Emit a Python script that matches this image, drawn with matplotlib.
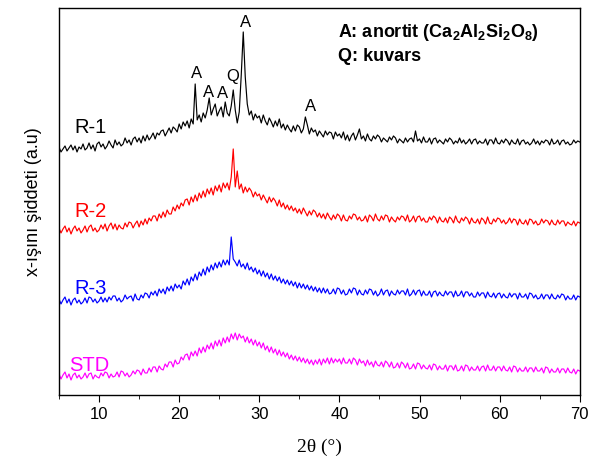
import numpy as np
import matplotlib
matplotlib.use("Agg")
import matplotlib.pyplot as plt
from matplotlib.ticker import MultipleLocator

# 2-theta grid: 5.00 .. 70.00 in 0.25 deg steps
two_theta = np.arange(5.0, 70.0001, 0.25)

r1 = [
    248, 243, 246, 249, 244, 247, 250, 245, 249, 243, 248, 246, 251, 245, 247, 252,
    246, 250, 244, 251, 253, 248, 251, 246, 249, 254, 250, 247, 255, 250, 253, 249,
    251, 257, 252, 255, 250, 256, 258, 253, 257, 252, 259, 254, 260, 255, 258, 262,
    256, 262, 260, 264, 265, 259, 263, 267, 262, 268, 266, 263, 271, 266, 273, 269,
    274, 267, 276, 271, 311, 275, 280, 273, 282, 277, 285, 297, 280, 286, 291, 279,
    284, 288, 278, 293, 282, 279, 289, 305, 285, 272, 283, 320, 363, 318, 291, 280,
    284, 275, 281, 277, 279, 272, 280, 274, 270, 277, 273, 268, 274, 269, 276, 267,
    271, 265, 270, 266, 263, 269, 264, 270, 268, 262, 266, 278, 270, 261, 267, 263,
    265, 259, 264, 261, 258, 264, 260, 263, 262, 256, 263, 259, 261, 257, 263, 255,
    260, 254, 259, 262, 255, 260, 266, 256, 259, 254, 261, 256, 254, 259, 256, 260,
    258, 253, 257, 255, 253, 258, 255, 259, 257, 252, 256, 254, 252, 257, 253, 256,
    257, 253, 264, 254, 256, 252, 258, 253, 253, 257, 251, 256, 257, 252, 255, 253,
    251, 256, 253, 257, 255, 251, 254, 252, 257, 252, 255, 251, 253, 256, 251, 255,
    256, 251, 254, 252, 252, 256, 250, 255, 255, 251, 257, 252, 251, 255, 252, 256,
    254, 250, 255, 252, 251, 256, 250, 254, 255, 251, 253, 250, 252, 256, 251, 254,
    250, 254, 252, 255, 254, 250, 256, 251, 252, 255, 250, 254, 255, 251, 253, 250,
    251, 255, 252, 254, 253,
]

r2 = [
    167, 162, 166, 169, 163, 167, 161, 166, 169, 164, 167, 162, 165, 169, 163, 168,
    170, 164, 167, 163, 165, 170, 166, 171, 164, 169, 172, 166, 171, 165, 170, 167,
    166, 172, 168, 173, 172, 167, 171, 174, 168, 174, 170, 176, 171, 177, 174, 179,
    179, 174, 181, 177, 183, 178, 185, 181, 181, 188, 184, 190, 186, 192, 189, 195,
    196, 190, 198, 193, 200, 194, 202, 197, 204, 198, 206, 201, 207, 200, 209, 204,
    210, 203, 212, 207, 212, 205, 218, 246, 208, 224, 206, 211, 202, 208, 203, 207,
    204, 198, 203, 199, 201, 195, 200, 196, 192, 198, 193, 197, 194, 189, 195, 188,
    192, 186, 190, 185, 189, 184, 187, 182, 186, 181, 187, 183, 179, 184, 180, 185,
    183, 178, 182, 177, 181, 176, 182, 178, 175, 180, 176, 181, 179, 174, 180, 175,
    174, 179, 176, 181, 180, 175, 178, 174, 175, 179, 173, 180, 178, 174, 181, 176,
    174, 179, 175, 180, 179, 173, 178, 175, 173, 178, 175, 179, 178, 174, 180, 173,
    175, 179, 173, 178, 179, 174, 177, 173, 173, 178, 175, 179, 177, 172, 178, 174,
    173, 177, 172, 178, 176, 172, 179, 174, 172, 177, 174, 178, 176, 171, 177, 173,
    172, 176, 171, 177, 175, 171, 178, 172, 171, 176, 173, 177, 176, 172, 175, 171,
    173, 177, 172, 176, 175, 170, 176, 172, 171, 175, 170, 176, 175, 171, 174, 170,
    171, 176, 172, 175, 174, 170, 175, 171, 170, 175, 171, 174, 174, 169, 173, 171,
    170, 174, 169, 173, 172,
]

r3 = [
    96, 91, 95, 98, 92, 96, 90, 95, 97, 92, 95, 91, 93, 97, 92, 98,
    97, 93, 96, 92, 94, 98, 93, 97, 93, 98, 95, 99, 99, 94, 97, 93,
    95, 100, 96, 98, 99, 94, 101, 96, 95, 100, 97, 102, 101, 97, 103, 100,
    104, 99, 106, 102, 106, 101, 108, 104, 109, 104, 111, 107, 110, 106, 114, 110,
    116, 110, 118, 114, 121, 115, 123, 119, 126, 120, 128, 123, 130, 125, 132, 127,
    133, 128, 135, 130, 135, 130, 158, 136, 133, 129, 135, 128, 131, 126, 132, 125,
    128, 123, 127, 121, 125, 119, 124, 118, 122, 116, 121, 115, 119, 114, 118, 112,
    116, 111, 115, 110, 114, 109, 113, 107, 112, 107, 111, 106, 110, 105, 109, 104,
    108, 103, 107, 102, 107, 102, 106, 101, 102, 106, 101, 107, 106, 101, 105, 100,
    101, 106, 102, 107, 106, 100, 105, 101, 100, 105, 101, 106, 105, 100, 104, 99,
    101, 106, 100, 104, 105, 99, 104, 101, 100, 105, 101, 104, 104, 100, 106, 99,
    101, 105, 100, 104, 105, 99, 104, 100, 100, 104, 98, 103, 104, 99, 103, 100,
    99, 104, 100, 103, 103, 98, 104, 99, 100, 104, 98, 103, 103, 99, 102, 98,
    98, 103, 99, 102, 102, 97, 103, 99, 98, 102, 97, 101, 102, 97, 101, 98,
    97, 102, 98, 101, 101, 96, 102, 98, 98, 101, 96, 102, 101, 97, 100, 96,
    97, 101, 96, 100, 100, 96, 101, 97, 96, 100, 97, 101, 100, 95, 99, 96,
    96, 100, 95, 99, 98,
]

std = [
    21, 16, 20, 23, 17, 21, 15, 20, 22, 17, 20, 16, 18, 22, 17, 21,
    22, 16, 20, 18, 17, 22, 19, 23, 22, 17, 21, 18, 19, 23, 18, 24,
    23, 19, 22, 18, 20, 24, 21, 25, 24, 20, 26, 22, 22, 27, 23, 28,
    28, 23, 29, 26, 25, 31, 28, 33, 33, 28, 35, 31, 32, 38, 35, 40,
    41, 35, 43, 39, 44, 39, 47, 42, 48, 43, 50, 46, 52, 46, 54, 49,
    55, 49, 57, 52, 58, 53, 61, 56, 62, 55, 61, 57, 59, 53, 58, 52,
    56, 50, 55, 49, 53, 47, 52, 45, 49, 43, 48, 42, 46, 40, 45, 39,
    43, 38, 42, 36, 40, 35, 39, 34, 38, 33, 37, 32, 36, 31, 35, 30,
    35, 31, 36, 30, 36, 32, 37, 31, 37, 32, 36, 33, 36, 31, 37, 32,
    32, 36, 31, 37, 35, 30, 36, 32, 34, 29, 35, 30, 33, 28, 34, 30,
    29, 33, 28, 34, 32, 28, 33, 27, 28, 32, 27, 33, 31, 27, 32, 26,
    27, 31, 26, 32, 31, 26, 30, 27, 26, 30, 25, 31, 30, 25, 29, 26,
    26, 30, 24, 29, 29, 25, 30, 24, 25, 29, 24, 30, 29, 24, 28, 25,
    25, 29, 24, 28, 29, 24, 30, 25, 25, 29, 24, 28, 28, 24, 29, 25,
    24, 28, 23, 29, 28, 23, 27, 24, 24, 28, 23, 27, 27, 23, 28, 24,
    24, 27, 22, 28, 27, 22, 26, 23, 23, 27, 22, 26, 26, 22, 27, 23,
    22, 26, 21, 25, 24,
]

series_names = ["R-1", "R-2", "R-3", "STD"]
series_colors = ["#000000", "#ff0000", "#0000ff", "#ff00ff"]
series_values = [r1, r2, r3, std]
label_pos = [(6.9, 267), (6.9, 183), (6.9, 106), (6.3, 29)]

peak_labels = ["A", "A", "A", "Q", "A", "A"]
peak_x = [22.16, 23.66, 25.4, 26.67, 28.34, 36.34]
peak_y = [321, 302, 301, 318, 372, 288]

xticks = [10, 20, 30, 40, 50, 60, 70]

plt.rcParams['font.family'] = ['Liberation Sans', 'DejaVu Sans']

fig = plt.figure(figsize=(6.02, 4.68), dpi=100)
ax = fig.add_axes([0.098, 0.156, 0.865, 0.827])

for name, col, vals, (lx, ly) in zip(series_names, series_colors, series_values, label_pos):
    ax.plot(two_theta, vals, color=col, lw=0.85)
    ax.text(lx, ly, name, color=col, fontsize=14.5, ha='left', va='center')

for lab, px, py in zip(peak_labels, peak_x, peak_y):
    ax.text(px, py, lab, fontsize=12, ha='center', va='center')

ax.text(39.8, 362, "A: anortit (Ca$_\\mathregular{2}$Al$_\\mathregular{2}$Si$_\\mathregular{2}$O$_\\mathregular{8}$)",
        fontsize=13, fontweight='bold', ha='left', va='center')
ax.text(39.8, 338, "Q: kuvars", fontsize=13, fontweight='bold', ha='left', va='center')

ax.set_xlim(5, 70)
ax.set_ylim(0, 387)
ax.set_xticks(xticks)
ax.xaxis.set_minor_locator(MultipleLocator(5))
ax.tick_params(axis='x', which='major', direction='out', length=5, labelsize=12, top=False)
ax.tick_params(axis='x', which='minor', direction='out', length=3, top=False)
ax.set_yticks([])
for s in ax.spines.values():
    s.set_linewidth(1.0)

ax.set_xlabel("2θ (°)", fontsize=14, family=['Liberation Serif', 'DejaVu Serif'], labelpad=12)
ax.set_ylabel("x-ışını şiddeti (a.u)", fontsize=13, labelpad=12)

fig.savefig("out.png", dpi=100)
